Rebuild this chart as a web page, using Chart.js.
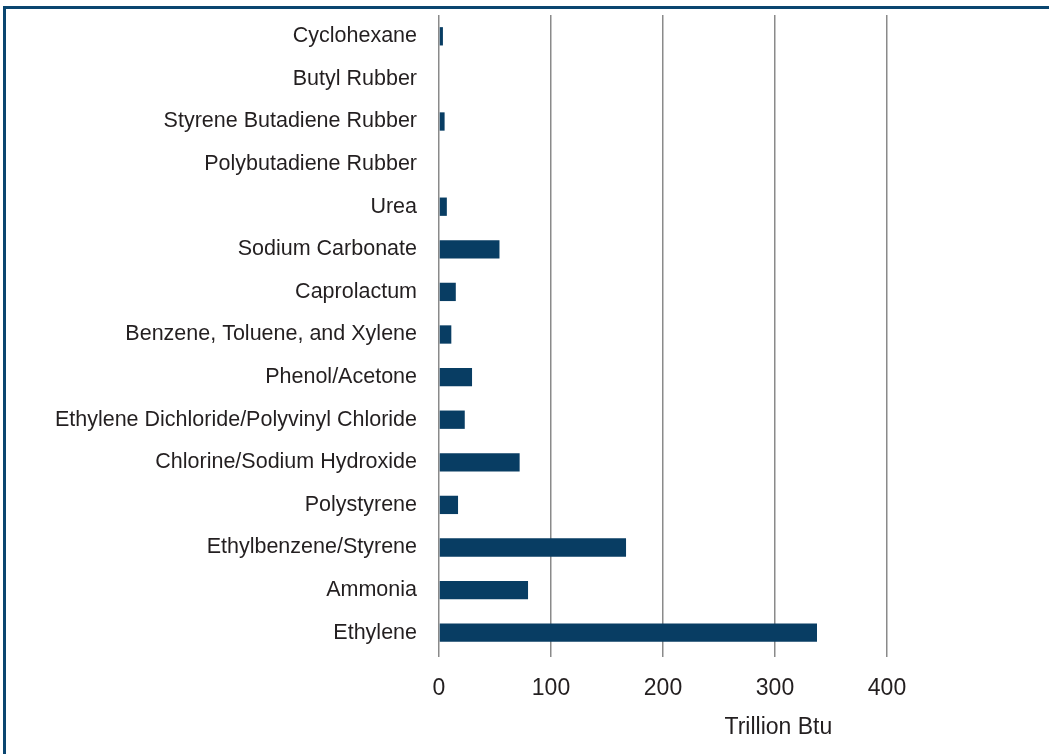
<html>
<head>
    <title>Energy use by chemical product</title>
    <script src="https://cdn.jsdelivr.net/npm/chart.js"></script>
</head>
<body>
    <div id="frame"></div>
    <canvas id="chart" width="1049" height="754"></canvas>

    <script>
      // categories from top to bottom, values in trillion Btu
      const products = [
        'Cyclohexane', 'Butyl Rubber', 'Styrene Butadiene Rubber', 'Polybutadiene Rubber',
        'Urea', 'Sodium Carbonate', 'Caprolactum', 'Benzene, Toluene, and Xylene',
        'Phenol/Acetone', 'Ethylene Dichloride/Polyvinyl Chloride', 'Chlorine/Sodium Hydroxide',
        'Polystyrene', 'Ethylbenzene/Styrene', 'Ammonia', 'Ethylene'
      ];
      const energyUse = [3.5, 0, 5, 0, 7, 54, 15, 11, 29.5, 23, 72, 17, 167, 79.5, 337.5];
      const xTicks = [0, 100, 200, 300, 400];
      const axisTitle = 'Trillion Btu';

      const FONT = "'Liberation Sans', Arial, sans-serif";
      const TEXT = '#231f20';

      // axis title sits right of centre in the original
      const axisTitlePlugin = {
        id: 'axisTitle',
        afterDraw(chart) {
          const x = chart.scales.x;
          const c = chart.ctx;
          c.save();
          c.font = '23px ' + FONT;
          c.fillStyle = TEXT;
          c.textAlign = 'center';
          c.textBaseline = 'middle';
          c.fillText(axisTitle, x.getPixelForValue(303), 728);
          c.restore();
        }
      };

      const ctx = document.getElementById('chart').getContext('2d');
      const chart = new Chart(ctx, {
        type: 'bar',
        data: {
          labels: products,
          datasets: [
            { data: energyUse, backgroundColor: '#083d63', barPercentage: 0.43, categoryPercentage: 1 }
          ]
        },
        options: {
          indexAxis: 'y',
          responsive: false,
          animation: false,
          layout: { padding: { top: 15, right: 50, bottom: 0, left: 0 } },
          plugins: { legend: { display: false }, tooltip: { enabled: false } },
          scales: {
            x: {
              min: 0,
              max: 500,
              afterBuildTicks: s => { s.ticks = xTicks.concat([500]).map(v => ({ value: v })); },
              afterFit: s => { s.height = 100; },
              border: { display: false },
              grid: {
                color: c => c.tick && c.tick.value === 500 ? 'rgba(0,0,0,0)' : '#8a8a8a',
                lineWidth: 1.5,
                tickLength: 3
              },
              ticks: {
                color: TEXT,
                font: { family: FONT, size: 23 },
                padding: 18,
                maxRotation: 0,
                callback: v => xTicks.includes(v) ? String(v) : ''
              }
            },
            y: {
              afterFit: s => { s.width = 439; s.paddingTop = 0; s.paddingBottom = 0; },
              border: { display: false },
              grid: { display: false },
              ticks: {
                color: TEXT,
                font: { family: FONT, size: 21.5 },
                padding: 14,
                autoSkip: false
              }
            }
          }
        },
        plugins: [axisTitlePlugin]
      });
    </script>

    <style>
      body {
        margin: 0;
        background-color: #ffffff;
        overflow: hidden;
      }

      #frame {
        position: absolute;
        left: 3px;
        top: 6px;
        width: 1100px;
        height: 800px;
        border-top: 3px solid #0a4670;
        border-left: 3px solid #0a4670;
      }

      canvas {
        position: absolute;
        left: 0;
        top: 0;
      }
    </style>
</body>
</html>
